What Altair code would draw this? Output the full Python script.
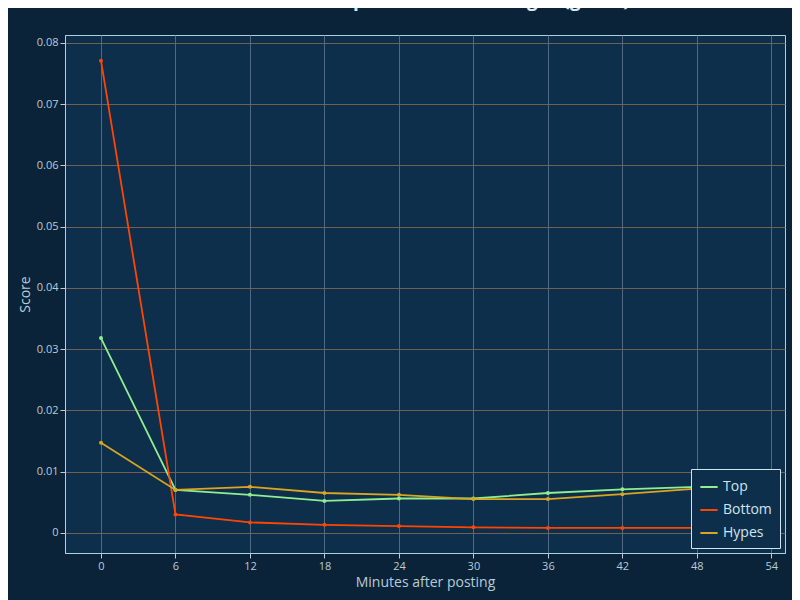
import altair as alt
import pandas as pd

minutes = [0, 6, 12, 18, 24, 30, 36, 42, 48]
top = [0.0318, 0.0070, 0.0062, 0.0052, 0.0056, 0.0056, 0.0065, 0.0071, 0.0075]
bottom = [0.0771, 0.0030, 0.0017, 0.0013, 0.0011, 0.0009, 0.0008, 0.0008, 0.0008]
hypes = [0.0147, 0.0070, 0.0075, 0.0065, 0.0062, 0.0055, 0.0055, 0.0063, 0.0072]
series = ["Top", "Bottom", "Hypes"]
colors = ["#90ee90", "#ff4500", "#daa520"]

rows = []
for name, vals in zip(series, [top, bottom, hypes]):
    for m, v in zip(minutes, vals):
        rows.append({"minute": m, "score": v, "series": name})
df = pd.DataFrame(rows)

x = alt.X("minute:Q", title="Minutes after posting",
          scale=alt.Scale(domain=[-2.9, 55.1], nice=False, zero=False),
          axis=alt.Axis(values=[0, 6, 12, 18, 24, 30, 36, 42, 48, 54], gridColor="#56708a"))
y = alt.Y("score:Q", title="Score",
          scale=alt.Scale(domain=[-0.0033, 0.0813], nice=False, zero=False),
          axis=alt.Axis(values=[0, 0.01, 0.02, 0.03, 0.04, 0.05, 0.06, 0.07, 0.08],
                        gridColor="#7d6550",
                        labelExpr="datum.value == 0 ? '0' : format(datum.value, '.2f')"))

chart = alt.Chart(df).mark_line(
    point=alt.OverlayMarkDef(size=16, filled=True), strokeWidth=1.8
).encode(
    x=x, y=y,
    color=alt.Color("series:N", sort=series,
                    scale=alt.Scale(domain=series, range=colors),
                    legend=alt.Legend(title=None, orient="bottom-right", offset=5,
                                      strokeColor="#d0e4ee", fillColor="#0d2f4b",
                                      padding=8, labelFontSize=14, labelColor="#d0e4ee",
                                      symbolType="stroke", symbolStrokeWidth=2,
                                      symbolSize=300, rowPadding=6)),
).properties(
    width=720, height=518,
    title=alt.Title("r/movies: SwapUsers Buzz Averages (guess)", fontSize=19,
                    color="#dce8f0", font="Open Sans", fontWeight="bold", offset=6,
                    baseline="bottom"),
    background="#0b2339", padding={"left": 57, "top": 27, "right": 7, "bottom": 47},
    autosize=alt.AutoSizeParams(type="none"),
).configure_view(fill="#0d2f4b", stroke="#b0d0e0").configure_axis(
    labelColor="#b8ccd8", titleColor="#b8ccd8", labelFont="Open Sans", titleFont="Open Sans",
    labelFontSize=11, titleFontSize=14, titleFontWeight="normal",
    domainColor="#b0d0e0", tickColor="#b0d0e0", gridOpacity=0.9,
).configure_legend(labelFont="Open Sans")

chart.save("out.html", embed_options={"renderer": "svg", "actions": False})
